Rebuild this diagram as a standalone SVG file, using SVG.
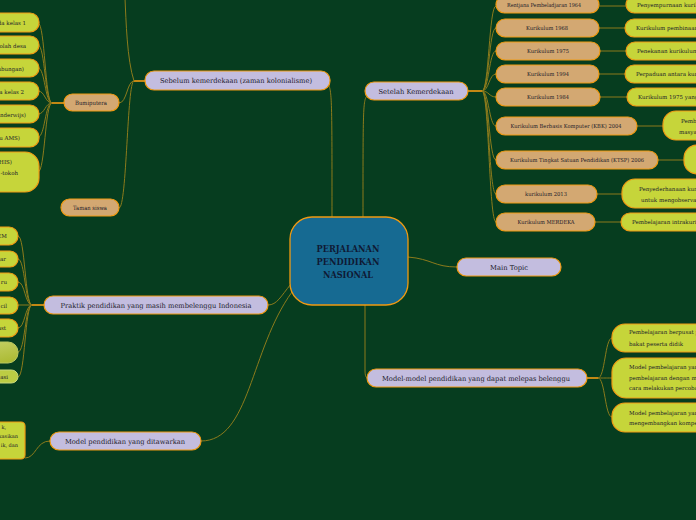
<svg xmlns="http://www.w3.org/2000/svg" width="696" height="520" viewBox="0 0 696 520">
<style>
text{font-family:"DejaVu Serif","Liberation Serif",serif;fill:#1b1b2a}
.lav{fill:#c3bddf;stroke:#f09a12;stroke-width:1.2}
.tan{fill:#d3a872;stroke:#f09a12;stroke-width:1.2}
.grn{fill:#c6d53a;stroke:#f09a12;stroke-width:1.2}
.c{fill:none;stroke:#8c7b1c;stroke-width:1}
.o{fill:none;stroke:#f39c12;stroke-width:1.6}
.t7{font-size:6.9px}
.t6{font-size:5.9px}
.t5{font-size:5.5px}
.m{text-anchor:middle}
.e{text-anchor:end}
</style>
<defs>
<linearGradient id="gg" x1="0" y1="0" x2="1" y2="1">
<stop offset="0" stop-color="#d2dc80"/><stop offset="1" stop-color="#a9b82e"/>
</linearGradient>
</defs>
<rect width="696" height="520" fill="#063d1f"/>

<g id="connectors">
<!-- central to main branches -->
<path class="c" d="M328,84 C332,90 332,100 332,217"/>
<path class="c" d="M367,96 C363,100 363,110 363,217"/>
<path class="c" d="M408,257 C432,259 434,267 457,267"/>
<path class="c" d="M365,305 L365,370 C365,376 366,378 368,378"/>
<path class="c" d="M291,284 C281,296 277,305 268,305"/>
<path class="c" d="M292,292 C250,350 250,441 201,441"/>
<!-- Sebelum branch -->
<path class="o" d="M145,81 L134,81"/>
<path class="c" d="M134,81 C127,81 127,103 119,103"/>
<path class="c" d="M134,81 C127,81 127,208 119,208"/>
<path class="c" d="M134,81 C127,60 126,20 125,-2"/>
<!-- Bumiputera branch -->
<path class="o" d="M64,103 L52,103"/>
<path class="c" d="M52,103 C45,103 45,23 38,23"/>
<path class="c" d="M52,103 C45,103 45,45 38,45"/>
<path class="c" d="M52,103 C45,103 45,68 38,68"/>
<path class="c" d="M52,103 C45,103 45,91 38,91"/>
<path class="c" d="M52,103 C45,103 45,114 38,114"/>
<path class="c" d="M52,103 C45,103 45,137 38,137"/>
<path class="c" d="M52,103 C45,103 45,172 38,172"/>
<!-- Setelah branch -->
<path class="o" d="M468,91 L482,91"/>
<path class="c" d="M482,91 C489,91 489,6 496,6"/>
<path class="c" d="M482,91 C489,91 489,28 496,28"/>
<path class="c" d="M482,91 C489,91 489,51 496,51"/>
<path class="c" d="M482,91 C489,91 489,74 496,74"/>
<path class="c" d="M482,91 C489,91 489,97 496,97"/>
<path class="c" d="M482,91 C489,91 489,126 496,126"/>
<path class="c" d="M482,91 C489,91 489,160 496,160"/>
<path class="c" d="M482,91 C489,91 489,194 496,194"/>
<path class="c" d="M482,91 C489,91 489,222 496,222"/>
<!-- tan to green -->
<path class="c" d="M599,6 L626,6"/>
<path class="c" d="M599,28 L625,28"/>
<path class="c" d="M600,51 L626,51"/>
<path class="c" d="M599,74 L625,74"/>
<path class="c" d="M600,97 L627,97"/>
<path class="c" d="M637,126 L663,126"/>
<path class="c" d="M658,160 L684,160"/>
<path class="c" d="M597,194 L622,194"/>
<path class="c" d="M595,222 L621,222"/>
<!-- Model-model branch -->
<path class="o" d="M587,378 L598,378"/>
<path class="c" d="M598,378 C605,378 605,338 612,338"/>
<path class="c" d="M598,378 C605,378 605,378 612,378"/>
<path class="c" d="M598,378 C605,378 605,417 612,417"/>
<!-- Praktik branch -->
<path class="o" d="M44,305 L32,305"/>
<path class="c" d="M32,305 C25,305 25,236 18,236"/>
<path class="c" d="M32,305 C25,305 25,259 18,259"/>
<path class="c" d="M32,305 C25,305 25,282 18,282"/>
<path class="c" d="M32,305 L18,305"/>
<path class="c" d="M32,305 C25,305 25,328 18,328"/>
<path class="c" d="M32,305 C25,305 25,352 18,352"/>
<path class="c" d="M32,305 C25,305 25,377 18,377"/>
<!-- ditawarkan branch -->
<path class="c" d="M50,441 C36,441 36,458 25,458"/>
</g>

<g id="central">
<rect x="290" y="217" width="118" height="88" rx="22" fill="#166a92" stroke="#f09a12" stroke-width="1.3"/>
<text x="348" y="252" class="m" font-size="8.4px" font-weight="bold" textLength="63" lengthAdjust="spacingAndGlyphs" style="fill:#0f1a35">PERJALANAN</text>
<text x="348" y="265" class="m" font-size="8.4px" font-weight="bold" textLength="63" lengthAdjust="spacingAndGlyphs" style="fill:#0f1a35">PENDIDIKAN</text>
<text x="348" y="278" class="m" font-size="8.4px" font-weight="bold" textLength="50" lengthAdjust="spacingAndGlyphs" style="fill:#0f1a35">NASIONAL</text>
</g>

<g id="sebelum"><rect class="lav" x="145" y="71" width="185" height="19" rx="9"/><text class="t7 m" x="236" y="83" textLength="152" lengthAdjust="spacingAndGlyphs">Sebelum kemerdekaan (zaman kolonialisme)</text></g>
<g id="setelah"><rect class="lav" x="365" y="82" width="103" height="18" rx="9"/><text class="t7 m" x="416" y="93.5" textLength="75" lengthAdjust="spacingAndGlyphs">Setelah Kemerdekaan</text></g>
<g id="maintopic"><rect class="lav" x="457" y="258" width="104" height="18" rx="9"/><text class="t7 m" x="509" y="269.5" textLength="38" lengthAdjust="spacingAndGlyphs">Main Topic</text></g>
<g id="modelmodel"><rect class="lav" x="367" y="369" width="220" height="18" rx="9"/><text class="t7 m" x="476" y="380.5" textLength="188" lengthAdjust="spacingAndGlyphs">Model-model pendidikan yang dapat melepas belenggu</text></g>
<g id="praktik"><rect class="lav" x="44" y="296" width="224" height="18" rx="9"/><text class="t7 m" x="156" y="307.5" textLength="191" lengthAdjust="spacingAndGlyphs">Praktik pendidikan yang masih membelenggu Indonesia</text></g>
<g id="ditawarkan"><rect class="lav" x="50" y="432" width="151" height="18" rx="9"/><text class="t7 m" x="125" y="443.5" textLength="120" lengthAdjust="spacingAndGlyphs">Model pendidikan yang ditawarkan</text></g>

<g id="bumiputera"><rect class="tan" x="64" y="94" width="55" height="17" rx="8.5"/><text class="t6 m" x="91" y="105" textLength="32" lengthAdjust="spacingAndGlyphs">Bumiputera</text></g>
<g id="tamansiswa"><rect class="tan" x="61" y="199" width="58" height="17" rx="8.5"/><text class="t6 m" x="90" y="210" textLength="34" lengthAdjust="spacingAndGlyphs">Taman siswa</text></g>

<g id="k1964"><rect class="tan" x="496" y="-4" width="103" height="17" rx="8.5"/><text class="t5 m" x="544" y="7" textLength="74" lengthAdjust="spacingAndGlyphs">Rentjana Pembeladjaran 1964</text></g>
<g id="k1968"><rect class="tan" x="496" y="19" width="103" height="18" rx="9"/><text class="t5 m" x="547" y="30" textLength="42" lengthAdjust="spacingAndGlyphs">Kurikulum 1968</text></g>
<g id="k1975"><rect class="tan" x="496" y="42" width="104" height="18" rx="9"/><text class="t5 m" x="548" y="53" textLength="42" lengthAdjust="spacingAndGlyphs">Kurikulum 1975</text></g>
<g id="k1994"><rect class="tan" x="496" y="65" width="103" height="18" rx="9"/><text class="t5 m" x="548" y="76" textLength="42" lengthAdjust="spacingAndGlyphs">Kurikulum 1994</text></g>
<g id="k1984"><rect class="tan" x="496" y="88" width="104" height="18" rx="9"/><text class="t5 m" x="548" y="99" textLength="42" lengthAdjust="spacingAndGlyphs">Kurikulum 1984</text></g>
<g id="kbk"><rect class="tan" x="496" y="117" width="141" height="18" rx="9"/><text class="t5 m" x="566" y="128" textLength="111" lengthAdjust="spacingAndGlyphs">Kurikulum Berbasis Komputer (KBK) 2004</text></g>
<g id="ktsp"><rect class="tan" x="496" y="151" width="162" height="18" rx="9"/><text class="t5 m" x="577" y="162" textLength="134" lengthAdjust="spacingAndGlyphs">Kurikulum Tingkat Satuan Pendidikan (KTSP) 2006</text></g>
<g id="k2013"><rect class="tan" x="496" y="185" width="101" height="18" rx="9"/><text class="t5 m" x="546" y="196" textLength="42" lengthAdjust="spacingAndGlyphs">kurikulum 2013</text></g>
<g id="merdeka"><rect class="tan" x="496" y="213" width="99" height="18" rx="9"/><text class="t5 m" x="546" y="224" textLength="57" lengthAdjust="spacingAndGlyphs">Kurikulum MERDEKA</text></g>

<g id="g1964"><rect class="grn" x="626" y="-4" width="120" height="17" rx="8.5"/><text class="t5" x="637" y="7">Penyempurnaan kurik</text></g>
<g id="g1968"><rect class="grn" x="625" y="19" width="120" height="18" rx="9"/><text class="t5" x="636" y="30">Kurikulum pembinaan</text></g>
<g id="g1975"><rect class="grn" x="626" y="42" width="120" height="18" rx="9"/><text class="t5" x="637" y="53">Penekanan kurikulum</text></g>
<g id="g1994"><rect class="grn" x="625" y="65" width="120" height="18" rx="9"/><text class="t5" x="636" y="76">Perpaduan antara kuri</text></g>
<g id="g1984"><rect class="grn" x="627" y="88" width="120" height="18" rx="9"/><text class="t5" x="638" y="99">Kurikulum 1975 yang</text></g>
<g id="gkbk"><rect class="grn" x="663" y="111" width="80" height="29" rx="13"/><text class="t5" x="681" y="123">Pemb</text><text class="t5" x="679" y="134">masyar</text></g>
<g id="gktsp"><rect class="grn" x="684" y="145" width="60" height="29" rx="13"/></g>
<g id="g2013"><rect class="grn" x="622" y="179" width="120" height="29" rx="13"/><text class="t5" x="639" y="191">Penyederhanaan kuri</text><text class="t5" x="641" y="202">untuk mengobservasi</text></g>
<g id="gmerdeka"><rect class="grn" x="621" y="213" width="120" height="18" rx="9"/><text class="t5" x="632" y="224">Pembelajaran intrakuri</text></g>

<g id="gm1"><rect class="grn" x="612" y="324" width="120" height="28" rx="13"/><text class="t5" x="629" y="334">Pembelajaran berpusat p</text><text class="t5" x="629" y="346">bakat peserta didik</text></g>
<g id="gm2"><rect class="grn" x="612" y="358" width="120" height="40" rx="14"/><text class="t5" x="629" y="369">Model pembelajaran yang</text><text class="t5" x="629" y="380">pembelajaran dengan me</text><text class="t5" x="629" y="390">cara melakukan percoban</text></g>
<g id="gm3"><rect class="grn" x="612" y="403" width="120" height="29" rx="13"/><text class="t5" x="629" y="415">Model pembelajaran yang</text><text class="t5" x="629" y="425">mengembangkan kompe</text></g>

<g id="b1"><rect class="grn" x="-80" y="13" width="119" height="19" rx="9"/><text class="t5 e" x="26" y="25">da kelas 1</text></g>
<g id="b2"><rect class="grn" x="-80" y="36" width="119" height="18" rx="9"/><text class="t5 e" x="26" y="47.5">olah desa</text></g>
<g id="b3"><rect class="grn" x="-80" y="59" width="119" height="18" rx="9"/><text class="t5 e" x="24" y="70.5">mbungan)</text></g>
<g id="b4"><rect class="grn" x="-80" y="82" width="119" height="18" rx="9"/><text class="t5 e" x="24" y="93.5">ra kelas 2</text></g>
<g id="b5"><rect class="grn" x="-80" y="105" width="119" height="18" rx="9"/><text class="t5 e" x="26" y="116.5">inderwijs)</text></g>
<g id="b6"><rect class="grn" x="-80" y="128" width="119" height="19" rx="9"/><text class="t5 e" x="20" y="139.5">u AMS)</text></g>
<g id="b7"><rect class="grn" x="-80" y="152" width="119" height="40" rx="14"/><text class="t5 e" x="12" y="164">(HIS)</text><text class="t5 e" x="18" y="175">-tokoh</text></g>

<g id="p1"><rect class="grn" x="-80" y="227" width="98" height="18" rx="9"/><text class="t5 e" x="7" y="238">EM</text></g>
<g id="p2"><rect class="grn" x="-80" y="251" width="98" height="16" rx="8"/><text class="t5 e" x="6" y="261">jar</text></g>
<g id="p3"><rect class="grn" x="-80" y="273" width="98" height="18" rx="9"/><text class="t5 e" x="7" y="284">ru</text></g>
<g id="p4"><rect class="grn" x="-80" y="297" width="98" height="17" rx="8.5"/><text class="t5 e" x="7" y="307.5">cil</text></g>
<g id="p5"><rect class="grn" x="-80" y="319" width="98" height="18" rx="9"/><text class="t5 e" x="6" y="330">ast</text></g>
<g id="p6"><rect x="-80" y="342" width="98" height="21" rx="10" fill="url(#gg)" stroke="#b9c860" stroke-width="1"/></g>
<g id="p7"><rect x="-80" y="370" width="98" height="13" rx="6.5" fill="#bccd44" stroke="#c9d97a" stroke-width="1"/><text class="t5 e" x="8" y="378.5">asi</text></g>

<g id="d1"><rect class="grn" x="-80" y="422" width="105" height="37" rx="4"/><text x="6" y="429" class="e" font-size="5px">k,</text><text x="18" y="438" class="e" font-size="5px">likasikan</text><text x="18" y="447" class="e" font-size="5px">ik, dan</text></g>
</svg>
